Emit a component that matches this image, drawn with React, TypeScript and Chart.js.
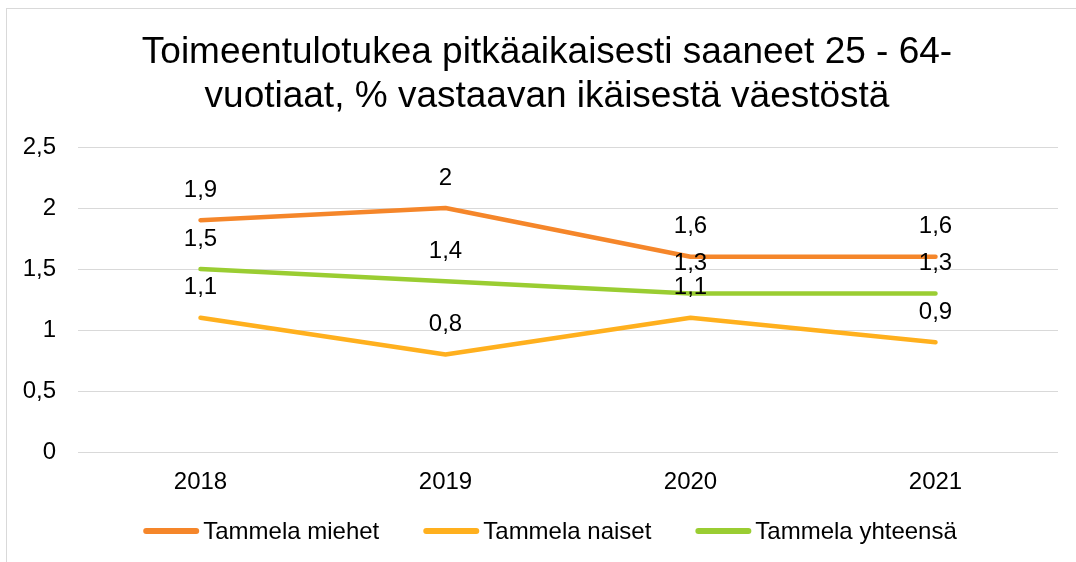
import React, { useEffect, useRef } from "react";
import { Chart, registerables } from "chart.js";

Chart.register(...registerables);

const titleLines = [
  "Toimeentulotukea pitkäaikaisesti saaneet 25 - 64-",
  "vuotiaat, % vastaavan ikäisestä väestöstä",
];
const years = ["2018", "2019", "2020", "2021"];
const miehet = [1.9, 2, 1.6, 1.6];
const naiset = [1.1, 0.8, 1.1, 0.9];
const yhteensa = [1.5, 1.4, 1.3, 1.3];
const seriesNames = ["Tammela miehet", "Tammela naiset", "Tammela yhteensä"];
const seriesColors = ["#F5862A", "#FFB01E", "#9ACD32"];
const yMin = 0;
const yMax = 2.5;
const yStep = 0.5;

const FONT = '"Liberation Sans", Arial, sans-serif';
const fmt = (v: number) => String(v).replace(".", ",");

const decorPlugin = {
  id: "decor",
  beforeDraw(chart: any) {
    const ctx = chart.ctx;
    ctx.save();
    ctx.fillStyle = "#ffffff";
    ctx.fillRect(0, 0, chart.width, chart.height);
    ctx.strokeStyle = "#d9d9d9";
    ctx.lineWidth = 1;
    ctx.strokeRect(6.5, 8.5, 1200, 1000);
    ctx.restore();
  },
  afterDatasetsDraw(chart: any) {
    const ctx = chart.ctx;
    ctx.save();
    ctx.font = `24px ${FONT}`;
    ctx.fillStyle = "#000000";
    ctx.textAlign = "center";
    ctx.textBaseline = "middle";
    chart.data.datasets.forEach((ds: any, i: number) => {
      const meta = chart.getDatasetMeta(i);
      meta.data.forEach((pt: any, j: number) => {
        ctx.fillText(fmt(ds.data[j]), pt.x, pt.y - 30);
      });
    });
    ctx.restore();
  },
  afterDraw(chart: any) {
    const ctx = chart.ctx;
    ctx.save();
    // title
    ctx.font = `37px ${FONT}`;
    ctx.fillStyle = "#000000";
    ctx.textAlign = "center";
    ctx.textBaseline = "alphabetic";
    ctx.fillText(titleLines[0], 547, 63);
    ctx.fillText(titleLines[1], 547, 107);
    // legend
    ctx.font = `24px ${FONT}`;
    const lineW = 56;
    const textGap = 4;
    const itemGap = 44;
    const widths = seriesNames.map((n) => ctx.measureText(n).width);
    const total =
      widths.reduce((a, b) => a + b, 0) +
      seriesNames.length * (lineW + textGap) +
      itemGap * (seriesNames.length - 1);
    let x = 550 - total / 2;
    const y = 531;
    ctx.textAlign = "left";
    ctx.textBaseline = "middle";
    seriesNames.forEach((n, i) => {
      ctx.strokeStyle = seriesColors[i];
      ctx.lineWidth = 6;
      ctx.lineCap = "round";
      ctx.beginPath();
      ctx.moveTo(x + 3, y);
      ctx.lineTo(x + lineW - 3, y);
      ctx.stroke();
      ctx.fillStyle = "#000000";
      ctx.fillText(n, x + lineW + textGap, y + 1);
      x += lineW + textGap + widths[i] + itemGap;
    });
    ctx.restore();
  },
};

export default function App() {
  const ref = useRef<HTMLCanvasElement>(null);
  useEffect(() => {
    if (!ref.current) return;
    const mk = (label: string, data: number[], color: string) => ({
      label,
      data,
      borderColor: color,
      backgroundColor: color,
      borderWidth: 4.5,
      pointRadius: 0,
      pointHoverRadius: 0,
      borderCapStyle: "round" as const,
      borderJoinStyle: "round" as const,
      tension: 0,
      fill: false,
    });
    const chart = new Chart(ref.current, {
      type: "line",
      data: {
        labels: years,
        datasets: [
          mk(seriesNames[0], miehet, seriesColors[0]),
          mk(seriesNames[1], naiset, seriesColors[1]),
          mk(seriesNames[2], yhteensa, seriesColors[2]),
        ],
      },
      options: {
        animation: false,
        responsive: false,
        devicePixelRatio: 1,
        layout: { padding: { top: 147, right: 18, left: 0, bottom: 0 } },
        plugins: {
          legend: { display: false },
          tooltip: { enabled: false },
          title: { display: false },
        },
        scales: {
          x: {
            offset: true,
            grid: { display: false },
            border: { display: false },
            ticks: {
              font: { family: FONT, size: 24 },
              color: "#000000",
              padding: 8,
              maxRotation: 0,
            },
            afterFit: (s: any) => {
              s.height = 110;
            },
          },
          y: {
            min: yMin,
            max: yMax,
            grid: { color: "#d9d9d9", lineWidth: 1, drawTicks: false },
            border: { display: false },
            ticks: {
              stepSize: yStep,
              font: { family: FONT, size: 24 },
              color: "#000000",
              padding: 22,
              callback: (v: any) => fmt(Number(v)),
            },
            afterFit: (s: any) => {
              s.width = 78;
            },
          },
        },
      },
      plugins: [decorPlugin],
    });
    return () => chart.destroy();
  }, []);
  return (
    <div style={{ position: "absolute", left: 0, top: 0, width: 1076, height: 562 }}>
      <canvas ref={ref} width={1076} height={562} style={{ display: "block" }} />
    </div>
  );
}
